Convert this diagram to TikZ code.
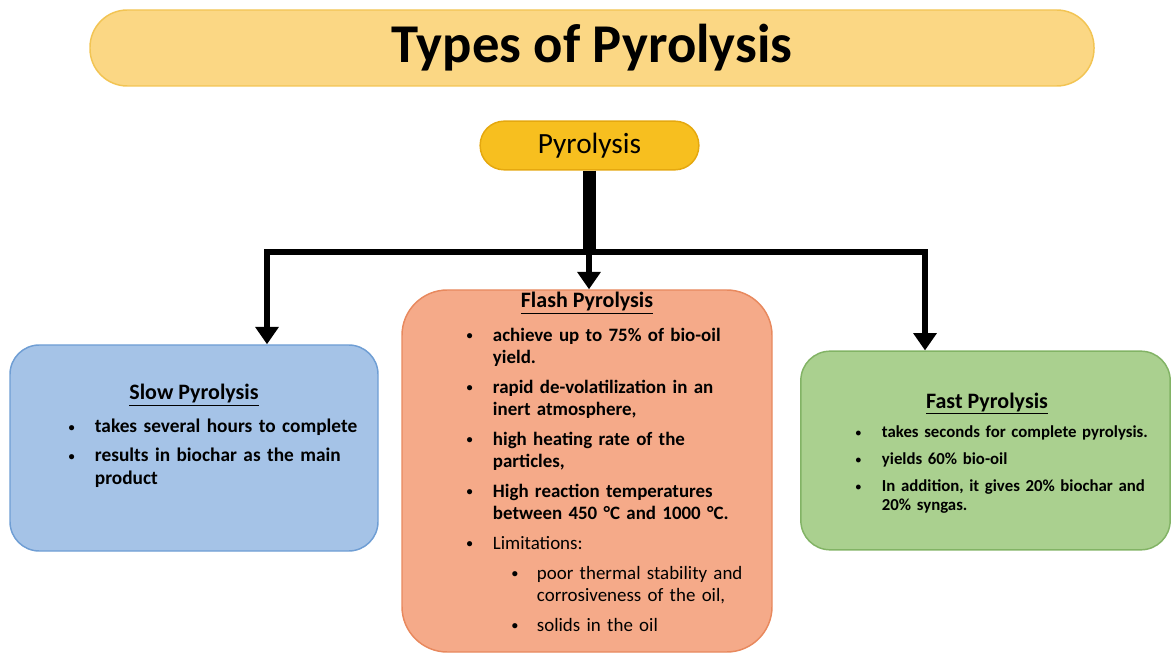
\documentclass[tikz,border=0pt]{standalone}
\usepackage{fontspec}
\setmainfont{Carlito}
\usepackage{xcolor}
\usetikzlibrary{arrows.meta,positioning}

\definecolor{bannerfill}{HTML}{FBD784}
\definecolor{bannerdraw}{HTML}{F2C453}
\definecolor{pyrofill}{HTML}{F7BF1F}
\definecolor{pyrodraw}{HTML}{E5A80F}
\definecolor{slowfill}{HTML}{A5C3E7}
\definecolor{slowdraw}{HTML}{6F9ED4}
\definecolor{flashfill}{HTML}{F5AA89}
\definecolor{flashdraw}{HTML}{E8895E}
\definecolor{fastfill}{HTML}{AAD08F}
\definecolor{fastdraw}{HTML}{82B365}

% liste a puces : retrait du texte, ecart puce-texte, ecart entre items
\newenvironment{pyrolist}[3]{%
  \begin{list}{\raisebox{0.15ex}{$\scriptstyle\bullet$}}{%
    \setlength{\leftmargin}{#1}\setlength{\labelwidth}{0pt}%
    \setlength{\labelsep}{#2}\setlength{\itemsep}{#3}%
    \setlength{\topsep}{#3}\setlength{\partopsep}{0pt}\setlength{\parsep}{0pt}%
    \renewcommand{\makelabel}[1]{\rlap{##1}}}}%
  {\end{list}}

\begin{document}
\begin{tikzpicture}[x=0.75pt,y=-0.75pt,
    box/.style={rectangle, line width=1.1pt, inner sep=0pt},
    ttl/.style={anchor=base, font=\bfseries\fontsize{16.5}{20}\selectfont},
    txt/.style={anchor=north west, inner sep=0pt, align=left},
    arr/.style={line width=5.2pt, -{Triangle[width=17pt,length=13pt]}}]
    \useasboundingbox (0,0) rectangle (1173,655);

    % Bandeau du titre
    \node[box, fill=bannerfill, draw=bannerdraw, rounded corners=28pt,
          minimum width=753pt, minimum height=57pt,
          font=\bfseries\fontsize{41}{46}\selectfont] (banner) at (592,48) {Types of Pyrolysis};

    % Noeud racine
    \node[box, fill=pyrofill, draw=pyrodraw, rounded corners=18pt,
          minimum width=164pt, minimum height=36.5pt,
          font=\fontsize{22}{26}\selectfont] (pyro) at (589.5,145.5) {Pyrolysis};

    % Les trois types
    \node[box, fill=slowfill, draw=slowdraw, rounded corners=22pt,
          minimum width=276pt, minimum height=154.5pt] (slow) at (194,448) {};
    \node[box, fill=flashfill, draw=flashdraw, rounded corners=34pt,
          minimum width=277.5pt, minimum height=271.5pt] (flash) at (587,471) {};
    \node[box, fill=fastfill, draw=fastdraw, rounded corners=22pt,
          minimum width=277pt, minimum height=149pt] (fast) at (985.5,450.5) {};

    % Titres des boites
    \node[ttl] (slowttl) at (194,400) {\underline{Slow Pyrolysis}};
    \node[ttl] (flashttl) at (587,308) {\underline{Flash Pyrolysis}};
    \node[ttl] (fastttl) at (987,408) {\underline{Fast Pyrolysis}};

    % Textes des boites
    \node[txt, text width=235pt, font=\bfseries\fontsize{14.5}{17}\selectfont] (slowtxt) at (68,403) {%
      \begin{pyrolist}{20pt}{20pt}{5pt}
        \item takes several hours to complete
        \item results in biochar as the main\newline product
      \end{pyrolist}};
    \node[txt, text width=235pt, font=\bfseries\fontsize{14.2}{16.5}\selectfont] (flashtxt) at (466,311) {%
      \begin{pyrolist}{20pt}{20pt}{6pt}
        \item achieve up to 75\% of bio-oil\newline yield.
        \item rapid de-volatilization in an\newline inert atmosphere,
        \item high heating rate of the\newline particles,
        \item High reaction temperatures\newline between 450 °C and 1000 °C.
        \item \mdseries Limitations:
          \begin{pyrolist}{33pt}{19pt}{6pt}\mdseries
            \item poor thermal stability and\newline corrosiveness of the oil,
            \item solids in the oil
          \end{pyrolist}
      \end{pyrolist}};
    \node[txt, text width=240pt, font=\bfseries\fontsize{12.6}{14.25}\selectfont] (fasttxt) at (855,410) {%
      \begin{pyrolist}{20pt}{20pt}{6pt}
        \item takes seconds for complete pyrolysis.
        \item yields 60\% bio-oil
        \item In addition, it gives 20\% biochar and\newline 20\% syngas.
      \end{pyrolist}};

    % Connecteurs
    \coordinate (split) at (589,252);
    \coordinate (lft) at (267,252);
    \coordinate (rgt) at (925,252);
    \draw[line width=9.5pt] (pyro.south) -- (pyro.south |- split);
    \draw[arr] (split) -- (lft) -- (lft |- slow.north);
    \draw[arr] (split) -- (rgt) -- (rgt |- fast.north);
    \draw[arr] (split) -- (split |- flash.north);
\end{tikzpicture}
\end{document}
